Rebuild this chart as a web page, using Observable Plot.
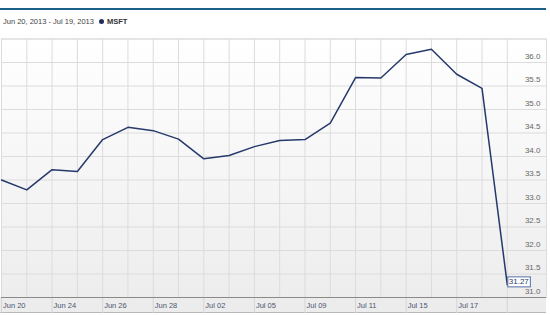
<!DOCTYPE html>
<html><head><meta charset="utf-8">
<script src="https://cdn.jsdelivr.net/npm/d3@7"></script>
<script src="https://cdn.jsdelivr.net/npm/@observablehq/plot@0.6"></script>
<style>
body{margin:0;background:#fff;font-family:"Liberation Sans",Arial,sans-serif;}
#wrap{position:relative;width:550px;height:315px;overflow:hidden}
#bar{position:absolute;left:0;top:8px;width:546px;height:2px;background:#1b5e87}
#legend{position:absolute;left:3px;top:17px;font-size:7.5px;color:#444;line-height:10px;white-space:nowrap}
#legend .dot{display:inline-block;width:5px;height:5px;border-radius:50%;background:#1f2d5c;margin:0 1px 0 5px;vertical-align:0px}
#legend b{color:#333}
#band{position:absolute;left:0;top:297px;width:546px;height:15px;background:#ececec;border-bottom:1px solid #b8b8b8}
#chart{position:absolute;left:0;top:37px}
</style></head>
<body>
<svg width="0" height="0" style="position:absolute"><defs><linearGradient id="bg" x1="0" y1="0" x2="0" y2="1"><stop offset="0" stop-color="#ffffff"/><stop offset="1" stop-color="#ededed"/></linearGradient></defs></svg>
<div id="wrap">
  <div id="bar"></div>
  <div id="legend">Jun 20, 2013 - Jul 19, 2013<span class="dot"></span> <b>MSFT</b></div>
  <div id="band"></div>
  <div id="chart"></div>
</div>
<script>
const dates = ["Jun 20","Jun 21","Jun 24","Jun 25","Jun 26","Jun 27","Jun 28","Jul 01","Jul 02","Jul 03","Jul 05","Jul 08","Jul 09","Jul 10","Jul 11","Jul 12","Jul 15","Jul 16","Jul 17","Jul 18","Jul 19"];
const closes = [33.50,33.29,33.72,33.68,34.36,34.62,34.55,34.37,33.95,34.02,34.21,34.34,34.36,34.71,35.68,35.67,36.17,36.28,35.75,35.45,31.27];
const yGrid = [31.0,31.5,32.0,32.5,33.0,33.5,34.0,34.5,35.0,35.5,36.0,36.5];
const yLabels = [31.0,31.5,32.0,32.5,33.0,33.5,34.0,34.5,35.0,35.5,36.0];
const xTickIdx = [0,2,4,6,8,10,12,14,16,18,20];
const xLabelIdx = [0,2,4,6,8,10,12,14,16,18];
const lastLabel = "31.27";

const idx = d3.range(dates.length);

const plot = Plot.plot({
  width: 550,
  height: 278,
  marginTop: 1.5,
  marginBottom: 18,
  marginLeft: 1,
  marginRight: 4,
  style: {background: "transparent", fontFamily: "Liberation Sans, Arial, sans-serif"},
  x: {type: "linear", domain: [0, 21.55]},
  y: {domain: [31, 36.5], axis: null},
  marks: [
    Plot.frame({fill: "url(#bg)", stroke: "#dddddd"}),
    Plot.ruleX(idx, {x: d => d, stroke: "#dcdcdc", strokeWidth: 1}),
    Plot.ruleY(yGrid, {y: d => d, stroke: "#dcdcdc", strokeWidth: 1}),
    Plot.axisX({ticks: xTickIdx, tickSize: 16, tickFormat: () => "", stroke: "#d6d6d6", label: null}),
    Plot.ruleY([31], {stroke: "#8a8a8a", strokeWidth: 1}),
    Plot.text(xLabelIdx, {x: d => d, text: d => dates[d], frameAnchor: "bottom", textAnchor: "start", lineAnchor: "middle", dx: 1.5, dy: 8.5, fontSize: 7.5, fill: "#4b5570"}),
    Plot.text(yLabels, {y: d => d, text: d => d.toFixed(1), frameAnchor: "right", textAnchor: "end", dx: -6, dy: -6.5, fontSize: 8, fill: "#666"}),
    Plot.line(idx, {x: d => d, y: d => closes[d], stroke: "#26396b", strokeWidth: 1.5, strokeLinejoin: "round"}),
    Plot.text([closes.length - 1], {x: d => d, y: d => closes[d], text: () => lastLabel, textAnchor: "start", lineAnchor: "middle", dx: 1.5, dy: -3, fontSize: 8, fill: "#2b3a66"})
  ]
});
document.getElementById("chart").appendChild(plot);

// draw a box around the last value label
const ns = "http://www.w3.org/2000/svg";
for (const t of plot.querySelectorAll("text")) {
  if (t.textContent.trim() !== lastLabel) continue;
  const b = t.getBBox();
  const r = document.createElementNS(ns, "rect");
  r.setAttribute("x", b.x - 1);
  r.setAttribute("y", b.y - 0.5);
  r.setAttribute("width", b.width + 2);
  r.setAttribute("height", b.height + 1);
  r.setAttribute("fill", "white");
  r.setAttribute("stroke", "#5470a8");
  r.setAttribute("stroke-width", "1");
  const tr = t.getAttribute("transform");
  if (tr) r.setAttribute("transform", tr);
  t.parentNode.insertBefore(r, t);
}
</script>
</body></html>
